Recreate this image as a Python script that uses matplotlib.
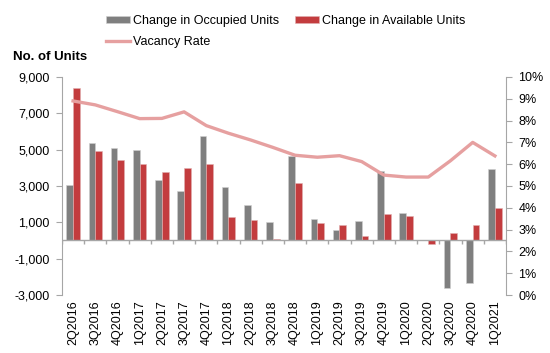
import matplotlib.pyplot as plt
import numpy as np

plt.rcParams['font.family'] = ['Liberation Sans', 'DejaVu Sans']

quarters = ["2Q2016", "3Q2016", "4Q2016", "1Q2017", "2Q2017", "3Q2017", "4Q2017",
            "1Q2018", "2Q2018", "3Q2018", "4Q2018", "1Q2019", "2Q2019", "3Q2019",
            "4Q2019", "1Q2020", "2Q2020", "3Q2020", "4Q2020", "1Q2021"]
occupied = [3040, 5380, 5070, 4980, 3350, 2710, 5750, 2940, 1970, 1020, 4650,
            1180, 560, 1090, 3825, 1510, 0, -2630, -2340, 3950]
available = [8410, 4925, 4430, 4210, 3790, 3970, 4190, 1275, 1130, 80, 3150,
             945, 850, 265, 1475, 1365, -190, 410, 870, 1770]
vacancy = [8.9, 8.72, 8.41, 8.09, 8.1, 8.4, 7.77, 7.42, 7.11, 6.77, 6.41,
           6.32, 6.39, 6.12, 5.5, 5.41, 5.41, 6.16, 7.0, 6.38]

grey = '#7f7f7f'
red = '#c33c3e'
pink = '#e6a0a0'
axis_col = '#a6a6a6'
fs = 9

fig = plt.figure(figsize=(5.5, 3.53), dpi=100)
ax = fig.add_axes([0.1127, 0.1643, 0.8073, 0.6176])
x = np.arange(len(quarters))
w = 0.3
b1 = ax.bar(x - w / 2, occupied, w, color=grey, edgecolor='#d0d0d0', linewidth=0.4,
            label="Change in Occupied Units")
b2 = ax.bar(x + w / 2, available, w, color=red, edgecolor='#e0b0b0', linewidth=0.4,
            label="Change in Available Units")
ax.set_ylim(-3000, 9000)
ax.set_xlim(-0.5, len(quarters) - 0.5)
ax.set_yticks(range(-3000, 9001, 2000))
ax.set_yticklabels([f"{v:,}" for v in range(-3000, 9001, 2000)])
ax.axhline(0, color=axis_col, linewidth=1)
# category boundary ticks on the zero line
ax.vlines(np.arange(len(quarters) + 1) - 0.5, -200, 0, color=axis_col, linewidth=1)
ax.set_xticks(x)
ax.set_xticklabels(quarters, rotation=90, fontsize=fs)
ax.tick_params(axis='x', length=0, pad=4)
ax.tick_params(axis='y', colors=axis_col, labelcolor='black', labelsize=fs, length=4, pad=5)
for s in ['top', 'right', 'bottom']:
    ax.spines[s].set_visible(False)
ax.spines['left'].set_color(axis_col)

ax2 = ax.twinx()
l1, = ax2.plot(x, vacancy, color=pink, linewidth=2.4, label="Vacancy Rate")
ax2.set_ylim(0, 10)
ax2.set_yticks(range(0, 11))
ax2.set_yticklabels([f"{v}%" for v in range(0, 11)])
ax2.tick_params(axis='y', colors=axis_col, labelcolor='black', labelsize=fs, length=4, pad=5)
for s in ['top', 'left', 'bottom']:
    ax2.spines[s].set_visible(False)
ax2.spines['right'].set_color(axis_col)

fig.legend(handles=[b1, l1, b2], loc='upper left', bbox_to_anchor=(0.193, 0.958),
           ncol=2, frameon=False, fontsize=fs, handlelength=1.9, handleheight=0.45,
           handletextpad=0.25, columnspacing=1.3, labelspacing=0.75,
           borderaxespad=0, borderpad=0)
fig.text(0.024, 0.83, "No. of Units", fontsize=fs + 0.5, fontweight='bold')

fig.savefig("out.png", dpi=100)
